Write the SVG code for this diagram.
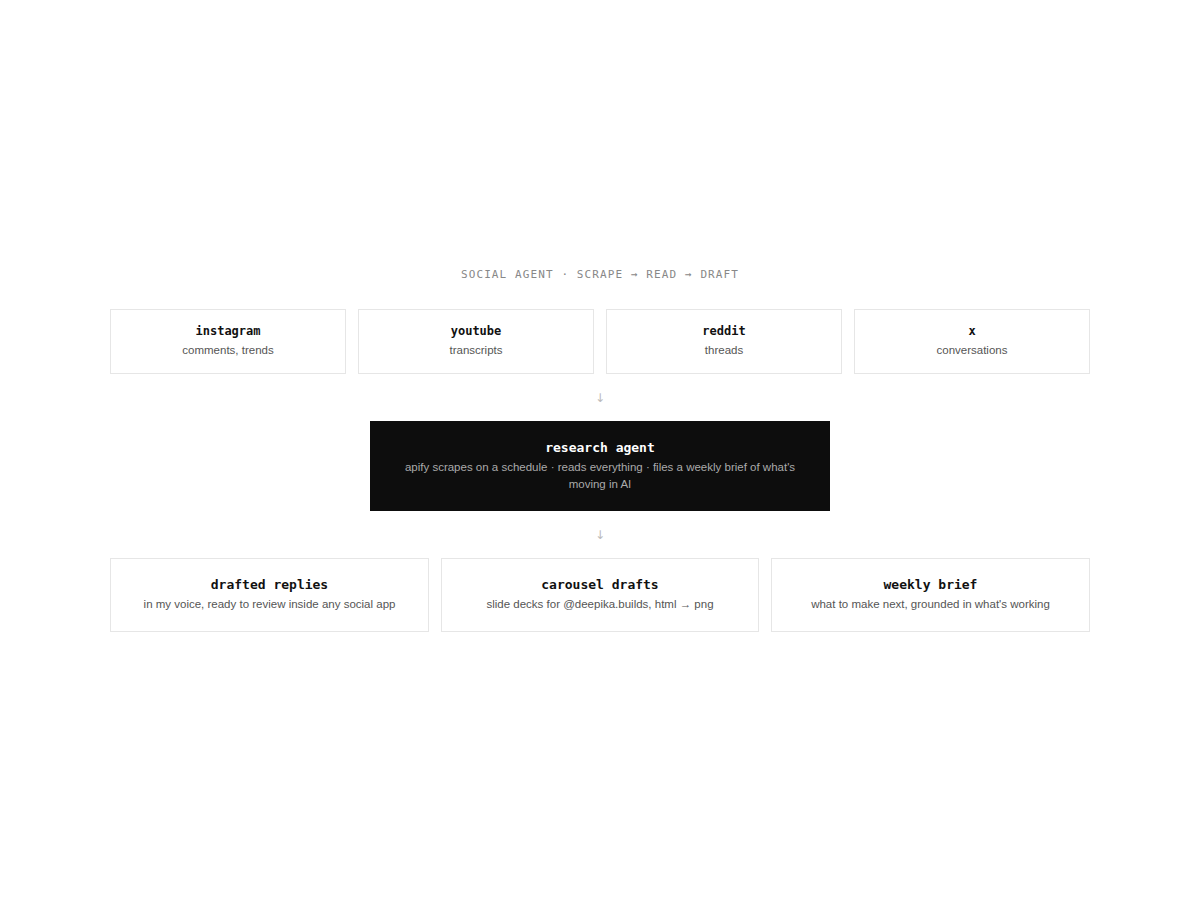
<svg xmlns="http://www.w3.org/2000/svg" width="1200" height="900" viewBox="0 0 1200 900">
<style>
.box{fill:#fff;stroke:#e6e6e6;stroke-width:1}
.dark{fill:#0d0d0d}
.t{font-family:"DejaVu Sans Mono","Liberation Mono",monospace;font-weight:bold;fill:#111;text-anchor:middle}
.s{font-family:"Liberation Sans",Arial,sans-serif;font-size:11.5px;fill:#555;text-anchor:middle}
.hdr{font-family:"DejaVu Sans Mono","Liberation Mono",monospace;font-size:11px;letter-spacing:1.1px;fill:#888;text-anchor:middle}
.arr{font-family:"DejaVu Sans","Liberation Sans",sans-serif;font-size:12px;fill:#bbb;text-anchor:middle}
</style>
<rect width="1200" height="900" fill="#fff"/>
<text class="hdr" x="600" y="278">SOCIAL AGENT · SCRAPE → READ → DRAFT</text>
<g id="instagram"><rect class="box" x="110.5" y="309.5" width="235" height="64"/><text class="t" x="228" y="335" font-size="12">instagram</text><text class="s" x="228" y="354">comments, trends</text></g>
<g id="youtube"><rect class="box" x="358.5" y="309.5" width="235" height="64"/><text class="t" x="476" y="335" font-size="12">youtube</text><text class="s" x="476" y="354">transcripts</text></g>
<g id="reddit"><rect class="box" x="606.5" y="309.5" width="235" height="64"/><text class="t" x="724" y="335" font-size="12">reddit</text><text class="s" x="724" y="354">threads</text></g>
<g id="x"><rect class="box" x="854.5" y="309.5" width="235" height="64"/><text class="t" x="972" y="335" font-size="12">x</text><text class="s" x="972" y="354">conversations</text></g>
<g id="connectors"><text class="arr" x="600" y="402">↓</text><text class="arr" x="600" y="539">↓</text></g>
<g id="research-agent"><rect class="dark" x="370" y="421" width="460" height="90"/><text class="t" x="600" y="452" font-size="13" fill="#fff" style="fill:#fff">research agent</text><text class="s" x="600" y="471" style="fill:#aaa">apify scrapes on a schedule · reads everything · files a weekly brief of what's</text><text class="s" x="600" y="488" style="fill:#aaa">moving in AI</text></g>
<g id="drafted-replies"><rect class="box" x="110.5" y="558.5" width="318" height="73"/><text class="t" x="269.5" y="589" font-size="13">drafted replies</text><text class="s" x="269.5" y="608">in my voice, ready to review inside any social app</text></g>
<g id="carousel-drafts"><rect class="box" x="441.5" y="558.5" width="317" height="73"/><text class="t" x="600" y="589" font-size="13">carousel drafts</text><text class="s" x="600" y="608">slide decks for @deepika.builds, html → png</text></g>
<g id="weekly-brief"><rect class="box" x="771.5" y="558.5" width="318" height="73"/><text class="t" x="930.5" y="589" font-size="13">weekly brief</text><text class="s" x="930.5" y="608">what to make next, grounded in what's working</text></g>
</svg>
